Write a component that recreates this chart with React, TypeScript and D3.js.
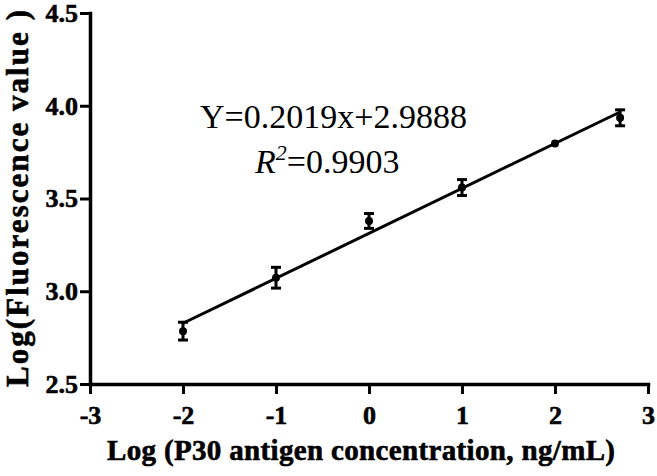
import React, { useEffect, useRef } from "react";
import * as d3 from "d3";

// log concentration (x) and log fluorescence (mean, SD)
const concLog = [-2, -1, 0, 1, 2, 2.7];
const fluoLog = [2.785, 3.073, 3.379, 3.559, 3.796, 3.935];
const fluoErr = [0.048, 0.056, 0.04, 0.043, 0.004, 0.043];
const xTicks = [-3, -2, -1, 0, 1, 2, 3];
const yTicks = [2.5, 3.0, 3.5, 4.0, 4.5];
const equation = "Y=0.2019x+2.9888";
const r2Value = "=0.9903";

const width = 657;
const height = 476;
const margin = { top: 13, right: 9, bottom: 92, left: 90 };
const font = "'Liberation Serif', 'Times New Roman', Times, serif";

export default function App() {
  const ref = useRef<SVGSVGElement>(null);

  useEffect(() => {
    const svg = d3.select(ref.current);
    svg.selectAll("*").remove();

    const x = d3.scaleLinear().domain([-3, 3]).range([margin.left, width - margin.right]);
    const y = d3.scaleLinear().domain([2.5, 4.5]).range([height - margin.bottom, margin.top]);

    const data = concLog.map((c, i) => ({ x: c, y: fluoLog[i], e: fluoErr[i] }));

    // least squares fit through the points
    const mx = d3.mean(data, d => d.x) as number;
    const my = d3.mean(data, d => d.y) as number;
    const sxy = d3.sum(data, d => (d.x - mx) * (d.y - my));
    const sxx = d3.sum(data, d => (d.x - mx) ** 2);
    const slope = sxy / sxx;
    const icpt = my - slope * mx;
    const xr = d3.extent(concLog) as [number, number];

    svg.append("rect").attr("width", width).attr("height", height).attr("fill", "#fff");

    const xAxis = svg.append("g")
      .attr("transform", `translate(0,${y(2.5)})`)
      .call(d3.axisBottom(x).tickValues(xTicks).tickSize(10).tickSizeOuter(0).tickPadding(12)
        .tickFormat(d => String(d)));

    const yAxis = svg.append("g")
      .attr("transform", `translate(${x(-3)},0)`)
      .call(d3.axisLeft(y).tickValues(yTicks).tickSize(10).tickSizeOuter(0).tickPadding(2)
        .tickFormat(d3.format(".1f")));

    [xAxis, yAxis].forEach(a => {
      a.select(".domain").attr("stroke", "#000").attr("stroke-width", 3.5).attr("stroke-linecap", "square");
      a.selectAll(".tick line").attr("stroke", "#000").attr("stroke-width", 3);
      a.selectAll(".tick text")
        .attr("fill", "#000")
        .attr("stroke", "#000")
        .attr("stroke-width", 0.6)
        .attr("font-family", font)
        .attr("font-weight", "bold")
        .attr("font-size", 26);
    });

    // fit line
    svg.append("line")
      .attr("x1", x(xr[0])).attr("y1", y(icpt + slope * xr[0]))
      .attr("x2", x(xr[1])).attr("y2", y(icpt + slope * xr[1]))
      .attr("stroke", "#000")
      .attr("stroke-width", 3);

    const pts = svg.append("g").attr("stroke", "#000").attr("stroke-width", 3);
    pts.selectAll("line.bar")
      .data(data)
      .join("line")
      .attr("class", "bar")
      .attr("x1", d => x(d.x)).attr("x2", d => x(d.x))
      .attr("y1", d => y(d.y - d.e)).attr("y2", d => y(d.y + d.e));
    pts.selectAll("line.capTop")
      .data(data.filter(d => d.e > 0.01))
      .join("line")
      .attr("class", "capTop")
      .attr("x1", d => x(d.x) - 5).attr("x2", d => x(d.x) + 5)
      .attr("y1", d => y(d.y + d.e)).attr("y2", d => y(d.y + d.e));
    pts.selectAll("line.capBot")
      .data(data.filter(d => d.e > 0.01))
      .join("line")
      .attr("class", "capBot")
      .attr("x1", d => x(d.x) - 5).attr("x2", d => x(d.x) + 5)
      .attr("y1", d => y(d.y - d.e)).attr("y2", d => y(d.y - d.e));
    svg.append("g")
      .selectAll("circle")
      .data(data)
      .join("circle")
      .attr("cx", d => x(d.x))
      .attr("cy", d => y(d.y))
      .attr("r", 4)
      .attr("fill", "#000");

    // equation
    svg.append("text")
      .attr("x", 200).attr("y", 128)
      .attr("font-family", font)
      .attr("font-size", 34)
      .attr("fill", "#000")
      .text(equation);
    const r2 = svg.append("text")
      .attr("x", 255).attr("y", 173)
      .attr("font-family", font)
      .attr("font-size", 34)
      .attr("fill", "#000");
    r2.append("tspan").attr("font-style", "italic").text("R");
    r2.append("tspan").attr("font-style", "italic").attr("font-size", 22).attr("dy", -13).text("2");
    r2.append("tspan").attr("dy", 13).text(r2Value);

    // axis titles
    svg.append("text")
      .attr("x", 361).attr("y", 460)
      .attr("text-anchor", "middle")
      .attr("font-family", font)
      .attr("font-weight", "bold")
      .attr("font-size", 29)
      .attr("stroke", "#000")
      .attr("stroke-width", 0.6)
      .attr("textLength", 508)
      .attr("lengthAdjust", "spacing")
      .attr("fill", "#000")
      .text("Log (P30 antigen concentration, ng/mL)");
    svg.append("text")
      .attr("transform", `translate(28,${(10 + 387) / 2}) rotate(-90)`)
      .attr("text-anchor", "middle")
      .attr("font-family", font)
      .attr("font-weight", "bold")
      .attr("font-size", 31)
      .attr("stroke", "#000")
      .attr("stroke-width", 0.6)
      .attr("textLength", 377)
      .attr("lengthAdjust", "spacing")
      .attr("fill", "#000")
      .text("Log(Fluorescence value )");
  }, []);

  return (
    <svg
      ref={ref}
      width={width}
      height={height}
      style={{ position: "absolute", left: 0, top: 0, display: "block" }}
    />
  );
}
